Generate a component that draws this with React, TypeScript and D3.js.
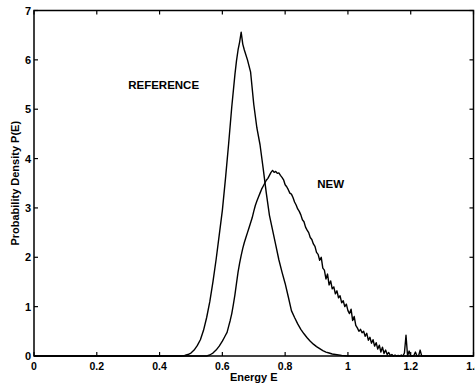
import React from "react";
import * as d3 from "d3";

// Energy distribution of the reference sampler (smooth curve)
const refEnergy = [
  0.0, 0.47, 0.48, 0.49, 0.5, 0.51, 0.52, 0.53, 0.54, 0.55, 0.56, 0.57, 0.58, 0.59, 0.6,
  0.61, 0.62, 0.63, 0.64, 0.645, 0.65, 0.655, 0.66, 0.665, 0.67, 0.68, 0.69, 0.7, 0.71,
  0.72, 0.73, 0.74, 0.75, 0.76, 0.77, 0.78, 0.79, 0.8, 0.81, 0.82, 0.83, 0.84, 0.85, 0.86,
  0.87, 0.88, 0.89, 0.9, 0.91, 0.92, 0.93, 0.94, 0.95, 0.96, 0.97, 0.98, 1.0, 1.4,
];
const refDensity = [
  0, 0, 0.01, 0.03, 0.06, 0.12, 0.21, 0.33, 0.52, 0.78, 1.1, 1.5, 1.95, 2.45, 2.95,
  3.6, 4.3, 5.05, 5.7, 5.98, 6.2, 6.36, 6.56, 6.32, 6.2, 6.0, 5.75, 5.1, 4.62,
  4.28, 3.8, 3.3, 2.85, 2.55, 2.25, 1.95, 1.7, 1.47, 1.2, 0.92, 0.78, 0.65, 0.54, 0.45,
  0.37, 0.3, 0.24, 0.19, 0.15, 0.11, 0.08, 0.06, 0.04, 0.03, 0.02, 0.01, 0, 0,
];

// Energy histogram of the new sampler, bins of width 0.005 from 0.55
const newStart = 0.55;
const newStep = 0.005;
const newDensity = [
  0.0, 0.01, 0.02, 0.04, 0.06, 0.09, 0.12, 0.16, 0.2, 0.25,
  0.3, 0.36, 0.42, 0.48, 0.6, 0.72, 0.86, 1.04, 1.24, 1.47,
  1.7, 1.88, 2.04, 2.18, 2.3, 2.4, 2.5, 2.6, 2.7, 2.8,
  2.93, 3.05, 3.14, 3.22, 3.3, 3.38, 3.44, 3.5, 3.56, 3.6,
  3.66, 3.72, 3.76, 3.72, 3.74, 3.7, 3.71, 3.66, 3.62, 3.57,
  3.47, 3.43, 3.37, 3.3, 3.28, 3.21, 3.12, 3.06, 2.98, 2.93,
  2.86, 2.76, 2.72, 2.61, 2.55, 2.5, 2.4, 2.36, 2.27, 2.22,
  2.1, 2.06, 1.94, 2.0, 1.78, 1.74, 1.56, 1.66, 1.44, 1.52,
  1.36, 1.4, 1.26, 1.32, 1.18, 1.22, 1.08, 1.12, 1.0, 1.05,
  0.92, 0.86, 0.95, 0.72, 0.8, 0.62, 0.57, 0.5, 0.54, 0.47,
  0.5, 0.4, 0.46, 0.32, 0.38, 0.26, 0.33, 0.2, 0.27, 0.14,
  0.22, 0.08, 0.18, 0.05, 0.12, 0.03, 0.07, 0.01, 0.03, 0.0,
  0.02, 0.0, 0.01, 0.0, 0.02, 0.0, 0.06, 0.42, 0.0, 0.1,
  0.0, 0.0, 0.01, 0.08, 0.0, 0.0, 0.12, 0.0, 0.0,
];

const xTicks = [0, 0.2, 0.4, 0.6, 0.8, 1, 1.2, 1.4];
const yTicks = [0, 1, 2, 3, 4, 5, 6, 7];
const xTickLabels = ["0", "0.2", "0.4", "0.6", "0.8", "1", "1.2", "1.4"];

const labels = [
  { text: "REFERENCE", e: 0.3, p: 5.4 },
  { text: "NEW", e: 0.902, p: 3.4 },
];

export default function App() {
  const left = 34;
  const right = 473.5;
  const top = 10.5;
  const bottom = 356;
  const x = d3.scaleLinear().domain([0, 1.4]).range([left, right]);
  const y = d3.scaleLinear().domain([0, 7]).range([bottom, top]);

  const refPts: [number, number][] = refEnergy.map((e, i) => [e, refDensity[i]]);
  const newPts: [number, number][] = [
    [0, 0],
    ...newDensity.map((p, i) => [newStart + i * newStep, p] as [number, number]),
    [1.4, 0],
  ];

  const line = d3
    .line<[number, number]>()
    .x((d) => x(d[0]))
    .y((d) => y(d[1]));

  const font = "'Liberation Sans', Arial, Helvetica, sans-serif";
  const tickLen = 4;

  return (
    <svg
      width={475}
      height={392}
      style={{ position: "absolute", left: 0, top: 0, background: "#fff" }}
      fontFamily={font}
      fontWeight="bold"
    >
      <rect x={0} y={0} width={475} height={392} fill="#fff" />
      <g stroke="#000" strokeWidth={1.4} fill="none" strokeLinejoin="round">
        <path d={line(refPts) ?? ""} />
        <path d={line(newPts) ?? ""} />
      </g>

      {/* frame */}
      <rect
        x={left}
        y={top}
        width={right - left}
        height={bottom - top}
        fill="none"
        stroke="#000"
        strokeWidth={1.5}
      />

      {/* x ticks, inward on bottom and top */}
      {xTicks.map((t, i) => (
        <g key={"x" + t}>
          <line x1={x(t)} x2={x(t)} y1={bottom} y2={bottom - tickLen} stroke="#000" strokeWidth={1.2} />
          <line x1={x(t)} x2={x(t)} y1={top} y2={top + tickLen} stroke="#000" strokeWidth={1.2} />
          <text x={x(t)} y={369.5} textAnchor="middle" fontSize={10.5} fill="#000">
            {xTickLabels[i]}
          </text>
        </g>
      ))}

      {/* y ticks, inward on left and right */}
      {yTicks.map((t) => (
        <g key={"y" + t}>
          <line x1={left} x2={left + tickLen} y1={y(t)} y2={y(t)} stroke="#000" strokeWidth={1.2} />
          <line x1={right} x2={right - tickLen} y1={y(t)} y2={y(t)} stroke="#000" strokeWidth={1.2} />
          <text x={31} y={y(t) + 4} textAnchor="end" fontSize={11} fill="#000">
            {t}
          </text>
        </g>
      ))}

      <text x={x(0.7)} y={381} textAnchor="middle" fontSize={11} fill="#000">
        Energy E
      </text>
      <text
        transform={`translate(19, ${y(3.5)}) rotate(-90)`}
        textAnchor="middle"
        fontSize={11}
        fill="#000"
      >
        Probability Density P(E)
      </text>

      {labels.map((l) => (
        <text key={l.text} x={x(l.e)} y={y(l.p)} fontSize={11.5} fill="#000">
          {l.text}
        </text>
      ))}
    </svg>
  );
}
